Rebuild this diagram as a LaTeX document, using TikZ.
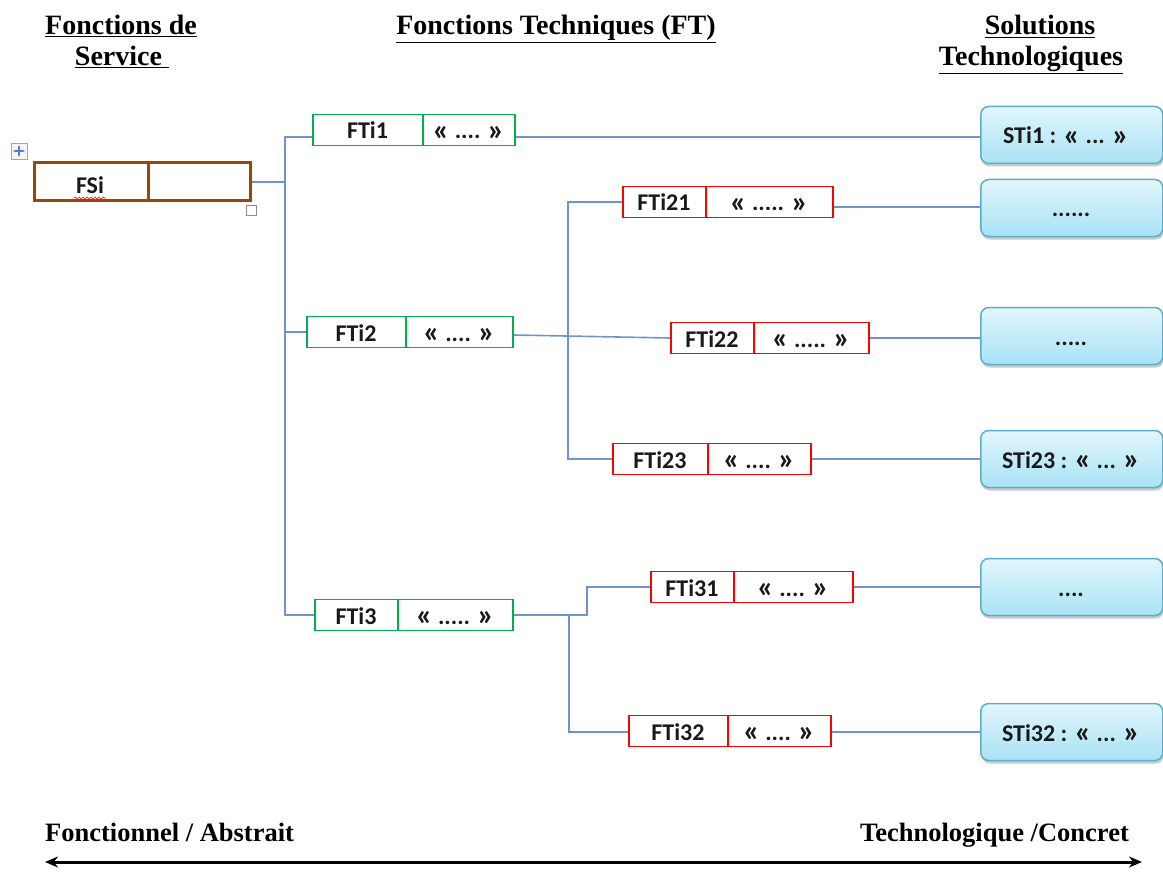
\documentclass[tikz,border=0pt]{standalone}
\usepackage{fontspec}
\setmainfont{Liberation Serif}
\newfontfamily\carfont{Carlito}
\usetikzlibrary{arrows.meta,shadows,decorations.pathmorphing}
\definecolor{conn}{HTML}{6F93CF}
\definecolor{ftgreen}{HTML}{00B050}
\definecolor{ftred}{HTML}{FF0000}
\definecolor{fsbrown}{HTML}{984806}
\definecolor{stborder}{HTML}{5AAFCB}
\definecolor{sttop}{HTML}{E2F6FC}
\definecolor{stbot}{HTML}{A9E2F5}
\newcommand\gqo{\raisebox{-1.5pt}{\scalebox{1.3}{«}}}
\newcommand\gqc{\raisebox{-1.5pt}{\scalebox{1.3}{»}}}
\tikzset{
  hdr/.style={font=\bfseries\fontsize{28}{31}\selectfont, inner sep=0, anchor=base},
  axislabel/.style={font=\bfseries\fontsize{26.5}{28}\selectfont, inner sep=0, anchor=base},
  fttext/.style={font=\carfont\bfseries\fontsize{24}{26}\selectfont, text=black!90, inner sep=0, anchor=base},
  stbox/.style={draw=stborder, line width=1.5, rounded corners=8, top color=sttop, bottom color=stbot,
     drop shadow={shadow xshift=1pt, shadow yshift=-3pt, opacity=0.35, fill=black!60},
     minimum width=182, minimum height=57, inner sep=0, anchor=west},
  sttext/.style={font=\carfont\bfseries\fontsize{24}{26}\selectfont, text=black!90, inner sep=0, anchor=base},
  link/.style={draw=conn, line width=1.6},
}
% #1 name, #2 left x, #3 right x, #4 divider x, #5 centre y, #6 colour, #7 left text, #8 right text
\newcommand\ftb[8]{%
  \node[draw=#6, line width=1.6, minimum width={#3-#2}, minimum height=31, inner sep=0, anchor=west] (#1) at (#2,#5) {};
  \draw[#6, line width=1.6] ({#4},{#5-15.5}) -- ({#4},{#5+15.5});
  \node[fttext] (#1l) at ({(#2+#4)/2},{#5+9}) {#7};
  \node[fttext] (#1r) at ({(#4+#3)/2},{#5+9}) {#8};
}
\begin{document}
\begin{tikzpicture}[x=1pt,y=-1pt]
\useasboundingbox (0,0) rectangle (1163,872);

% headers
\node[hdr] (h1a) at (121,35) {\underline{Fonctions de}};
\node[hdr] (h1b) at (122,66) {\underline{Service\ }};
\node[hdr] (h2) at (556,35) {\underline{Fonctions Techniques (FT)}};
\node[hdr] (h3a) at (1040,35) {\underline{Solutions}};
\node[hdr] (h3b) at (1031,66) {\underline{Technologiques}};

% FSi box
\node[draw=fsbrown, line width=3, minimum width=216, minimum height=38, inner sep=0, anchor=west] (fsi) at (33,182) {};
\draw[fsbrown, line width=3] (148,163) -- (148,201);
\node[fttext] (fsil) at (90,194) {FSi};
\draw[red, line width=0.7, decorate, decoration={snake, amplitude=1, segment length=4}] (74,198) -- (106,198);
% Word table handles
\node[draw=black!35, fill=black!4, line width=0.8, minimum size=16, inner sep=0] (mv) at (19,151) {};
\draw[conn!80!blue, line width=1.2, {Stealth[length=3]}-{Stealth[length=3]}] (13,151) -- (25,151);
\draw[conn!80!blue, line width=1.2, {Stealth[length=3]}-{Stealth[length=3]}] (19,145) -- (19,157);
\node[draw=black!45, fill=white, line width=1, minimum size=10, inner sep=0] (rs) at (251,211) {};

% FT boxes
\ftb{fti1}{312}{514}{423}{130}{ftgreen}{FTi1}{\gqo{} .... \gqc}
\ftb{fti2}{306}{512}{406}{332}{ftgreen}{FTi2}{\gqo{} .... \gqc}
\ftb{fti3}{314}{512}{398}{615}{ftgreen}{FTi3}{\gqo{} ..... \gqc}
\ftb{fti21}{622}{832}{706}{202}{ftred}{FTi21}{\gqo{} ..... \gqc}
\ftb{fti22}{670}{868}{754}{338}{ftred}{FTi22}{\gqo{} ..... \gqc}
\ftb{fti23}{612}{810}{708}{459}{ftred}{FTi23}{\gqo{} .... \gqc}
\ftb{fti31}{650}{852}{734}{587}{ftred}{FTi31}{\gqo{} .... \gqc}
\ftb{fti32}{628}{830}{728}{731}{ftred}{FTi32}{\gqo{} .... \gqc}

% ST boxes
\node[stbox] (st1) at (980,135) {};
\node[sttext] at (1066,144) {STi1 : \gqo{} ... \gqc};
\node[stbox] (st21) at (980,208) {};
\node[sttext] at (1071,217) {......};
\node[stbox] (st22) at (980,336) {};
\node[sttext] at (1071,345) {.....};
\node[stbox] (st23) at (980,459) {};
\node[sttext] at (1071,468) {STi23 : \gqo{} ... \gqc};
\node[stbox] (st31) at (980,587) {};
\node[sttext] at (1071,596) {....};
\node[stbox] (st32) at (980,732) {};
\node[sttext] at (1071,741) {STi32 : \gqo{} ... \gqc};

% connectors
\draw[link] (fsi.east) -- (285,182);
\draw[link] (fti1.west |- 0,137) -| (285,182) |- (fti3.west);
\draw[link] (285,332) -- (fti2.west);
\draw[link] (fti1.east |- 0,137) -- (st1.west |- 0,137);
\draw[link] (fti2.east |- 0,335) -- (fti22.west);
\draw[link] (fti21.west) -| (568,459) -- (fti23.west);
\draw[link] (fti21.east |- 0,207) -- (st21.west |- 0,207);
\draw[link] (fti22.east) -- (st22.west |- 0,338);
\draw[link] (fti23.east) -- (st23.west);
\draw[link] (fti3.east) -- (587,615) |- (fti31.west);
\draw[link] (569,615) |- (fti32.west |- 0,732);
\draw[link] (fti31.east) -- (st31.west);
\draw[link] (fti32.east |- 0,732) -- (st32.west);

% axis
\node[axislabel, anchor=base west] (la) at (45,841) {Fonctionnel / Abstrait};
\node[axislabel, anchor=base east] (lb) at (1129,841) {Technologique /Concret};
\coordinate (aL) at (45,862);
\coordinate (aR) at (1142,862);
\draw[line width=3, {Stealth[length=13,width=11]}-{Stealth[length=13,width=11]}] (aL) -- (aR);
\end{tikzpicture}
\end{document}
